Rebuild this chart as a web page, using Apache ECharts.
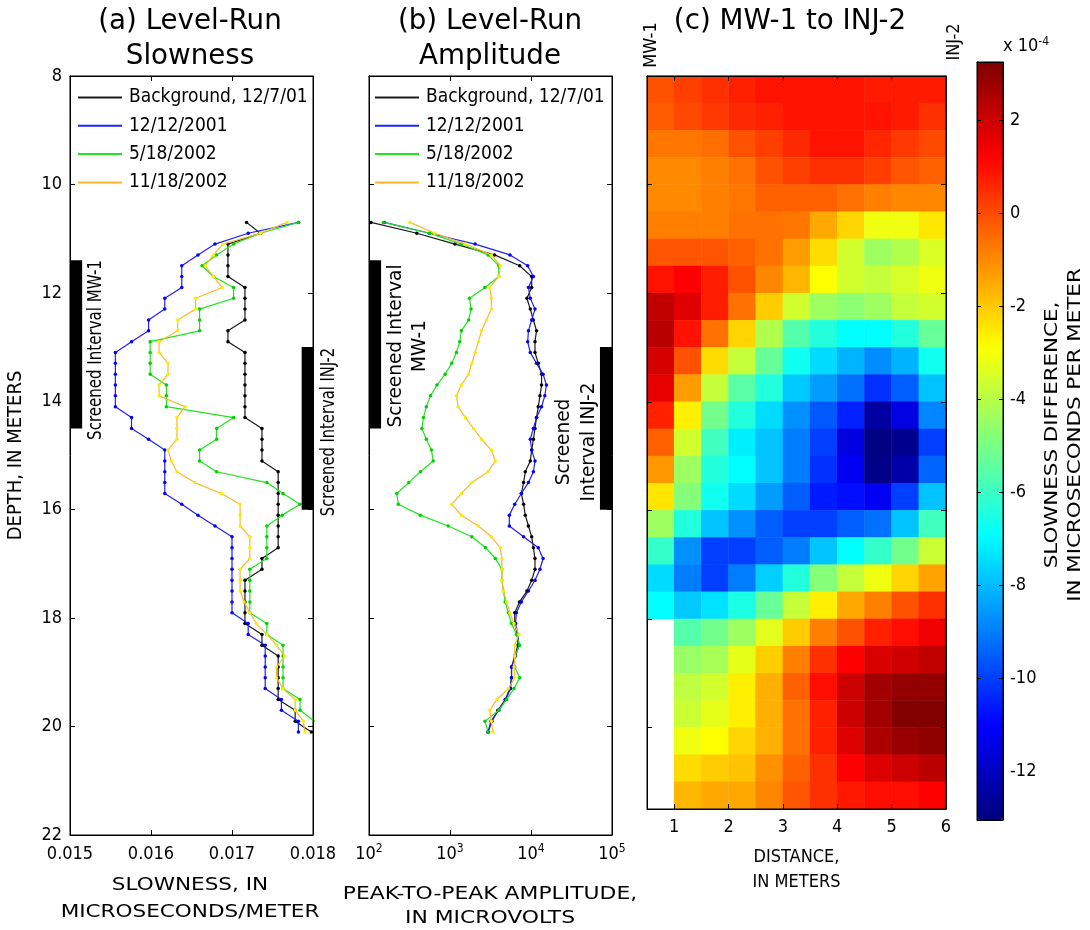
<!DOCTYPE html>
<html>
<head>
<meta charset="utf-8">
<title>Level-run slowness, amplitude and slowness difference</title>
<script src="https://cdn.jsdelivr.net/npm/echarts@6/dist/echarts.min.js"></script>
<style>
  html, body { margin: 0; padding: 0; background: #fff; }
  #chart { width: 1090px; height: 930px; }
</style>
</head>
<body>
<div id="chart"></div>
<script>
// depth of every level-run reading, meters
var depths = [10.7, 10.9, 11.1, 11.3, 11.5, 11.7, 11.9, 12.1, 12.3, 12.5, 12.7, 12.9, 13.1, 13.3, 13.5, 13.7,
  13.9, 14.1, 14.3, 14.5, 14.7, 14.9, 15.1, 15.3, 15.5, 15.7, 15.9, 16.1, 16.3, 16.5, 16.7, 16.9, 17.1, 17.3,
  17.5, 17.7, 17.9, 18.1, 18.3, 18.5, 18.7, 18.9, 19.1, 19.3, 19.5, 19.7, 19.9, 20.1];

var runNames = ['Background, 12/7/01', '12/12/2001', '5/18/2002', '11/18/2002'];

// (a) slowness, microseconds/meter
var slowBackground = [0.01718, 0.01735, 0.01695, 0.01695, 0.01695, 0.01695, 0.01716, 0.01716, 0.01716, 0.01716,
  0.01695, 0.01695, 0.01716, 0.01716, 0.01716, 0.01716, 0.01716, 0.01716, 0.01716, 0.01737, 0.01737, 0.01737,
  0.01737, 0.01757, 0.01757, 0.01757, 0.01757, 0.01757, 0.01757, 0.01757, 0.01757, 0.01737, 0.01737, 0.01716,
  0.01716, 0.01716, 0.01716, 0.01716, 0.01737, 0.01737, 0.01757, 0.01757, 0.01757, 0.01757, 0.01757, 0.01778,
  0.01778, 0.01798];
var slowDec2001 = [0.01782, 0.01720, 0.01679, 0.01658, 0.01638, 0.01638, 0.01638, 0.01617, 0.01617, 0.01597,
  0.01597, 0.01576, 0.01556, 0.01556, 0.01556, 0.01556, 0.01556, 0.01556, 0.01576, 0.01576, 0.01597, 0.01617,
  0.01617, 0.01617, 0.01617, 0.01617, 0.01638, 0.01658, 0.01679, 0.01700, 0.01700, 0.01700, 0.01700, 0.01700,
  0.01700, 0.01700, 0.01700, 0.01720, 0.01720, 0.01741, 0.01741, 0.01741, 0.01741, 0.01741, 0.01761, 0.01761,
  0.01782, 0.01782];
var slowMay2002 = [0.01782, 0.01735, 0.01702, 0.01681, 0.01663, 0.01677, 0.01702, 0.01702, 0.01660, 0.01660,
  0.01660, 0.01599, 0.01599, 0.01599, 0.01599, 0.01619, 0.01619, 0.01619, 0.01702, 0.01681, 0.01681, 0.01660,
  0.01660, 0.01681, 0.01743, 0.01763, 0.01784, 0.01762, 0.01743, 0.01743, 0.01743, 0.01743, 0.01722, 0.01722,
  0.01722, 0.01722, 0.01722, 0.01743, 0.01743, 0.01763, 0.01763, 0.01763, 0.01763, 0.01763, 0.01784, 0.01784,
  0.01802, 0.01815];
var slowNov2002 = [0.01768, 0.01735, 0.01689, 0.01677, 0.01667, 0.01677, 0.01688, 0.01655, 0.01655, 0.01633,
  0.01633, 0.01610, 0.01610, 0.01621, 0.01621, 0.01610, 0.01610, 0.01642, 0.01632, 0.01632, 0.01632, 0.01621,
  0.01625, 0.01632, 0.01654, 0.01687, 0.01710, 0.01710, 0.01710, 0.01722, 0.01722, 0.01722, 0.01710, 0.01710,
  0.01710, 0.01715, 0.01722, 0.01730, 0.01743, 0.01755, 0.01765, 0.01755, 0.01755, 0.01763, 0.01778, 0.01778,
  0.01788, 0.01790];

// (b) peak-to-peak amplitude, microvolts
var ampBackground = [106, 390, 1150, 3550, 7240, 10200, 10200, 8900, 9800, 10700, 11700, 11200, 11200, 12300,
  13500, 13500, 12900, 12300, 11700, 11200, 10700, 10200, 9800, 8500, 8100, 7600, 8100, 8500, 9300, 10200, 10700,
  11200, 11200, 10200, 8900, 7200, 6300, 6300, 6800, 6900, 6300, 5750, 5750, 5500, 4800, 3900, 3300, 2950];
var ampDec2001 = [155, 560, 2040, 5500, 9100, 10700, 9300, 9800, 11200, 10200, 9300, 9100, 9800, 11700, 14100,
  15500, 14800, 13500, 11700, 10700, 9800, 10200, 11200, 10700, 9300, 7600, 6300, 5400, 5400, 8100, 12300, 14100,
  12900, 11200, 9300, 7600, 6600, 6450, 6900, 7100, 6450, 5750, 5750, 5600, 4900, 4000, 3200, 2950];
var ampMay2002 = [150, 560, 1380, 2950, 4000, 4000, 2700, 1740, 1820, 1700, 1380, 1320, 1200, 1050, 870, 690,
  575, 510, 470, 450, 510, 590, 620, 430, 310, 220, 230, 430, 950, 1860, 2750, 3630, 4370, 4370, 4570, 4790, 5250,
  5750, 6600, 7240, 6300, 6300, 7240, 6170, 5000, 4000, 2700, 2950];
var ampNov2002 = [320, 650, 1550, 3240, 4170, 4000, 3100, 3240, 3240, 2820, 2450, 2240, 2040, 1860, 1700, 1380,
  1200, 1260, 1550, 1950, 2450, 3240, 3630, 2950, 1860, 1380, 1050, 1380, 2240, 3240, 4170, 4370, 4370, 4370,
  4570, 5000, 5500, 6170, 7080, 6300, 6300, 6170, 6300, 5250, 3800, 3100, 3240, 3390];

// screened intervals, depth in meters
var screenMW1 = [11.4, 14.5];
var screenINJ2 = [13.0, 16.0];

// (c) slowness difference, x 10^-4 us/m; cells 0.5 m wide and 0.5 m tall
var heatDistances = [0.75, 1.25, 1.75, 2.25, 2.75, 3.25, 3.75, 4.25, 4.75, 5.25, 5.75];
var heatDepths = [8.25, 8.75, 9.25, 9.75, 10.25, 10.75, 11.25, 11.75, 12.25, 12.75, 13.25, 13.75, 14.25, 14.75,
  15.25, 15.75, 16.25, 16.75, 17.25, 17.75, 18.25, 18.75, 19.25, 19.75, 20.25, 20.75, 21.25];
var heatValues = [
  [-0.1, 0.2, 0.45, 0.7, 0.9, 0.9, 0.9, 0.9, 0.8, 0.8, 0.8],
  [-0.25, 0.05, 0.3, 0.55, 0.7, 0.9, 0.9, 0.9, 0.9, 0.8, 0.45],
  [-0.7, -0.7, -0.55, -0.1, 0.2, 0.55, 0.9, 0.9, 0.6, 0.3, 0.05],
  [-1.0, -1.0, -0.83, -0.6, -0.1, 0.2, 0.45, 0.45, 0.2, -0.13, -0.35],
  [-1.0, -1.0, -0.83, -0.7, -0.35, -0.35, -0.35, -0.6, -0.83, -0.95, -0.95],
  [-0.83, -0.83, -0.83, -0.6, -0.6, -0.7, -1.5, -2.2, -3.1, -3.1, -2.5],
  [-0.13, -0.13, -0.13, -0.35, -0.6, -1.3, -2.3, -3.6, -4.4, -4.1, -3.45],
  [0.9, 1.21, 0.75, -0.1, -0.95, -1.7, -2.86, -3.6, -3.8, -3.5, -3.1],
  [2.2, 1.7, 0.75, -0.6, -2.05, -3.6, -4.4, -4.7, -4.4, -3.8, -3.6],
  [2.35, 0.9, -0.6, -2.2, -4.1, -5.6, -6.4, -6.94, -6.94, -6.4, -5.3],
  [1.9, -0.1, -2.3, -3.8, -5.3, -6.7, -7.5, -8.15, -8.75, -8.15, -6.7],
  [1.6, -1.3, -3.8, -5.5, -6.4, -7.8, -8.5, -9.2, -10.25, -9.5, -7.9],
  [0.7, -2.6, -5.1, -6.4, -7.5, -8.7, -9.6, -10.5, -12.5, -11.5, -8.85],
  [-0.35, -3.6, -5.9, -7.2, -7.9, -9.0, -10.0, -11.5, -13.0, -12.8, -10.0],
  [-1.2, -4.4, -6.4, -6.94, -7.9, -9.0, -10.25, -11.2, -12.9, -12.4, -9.4],
  [-2.45, -4.8, -6.7, -7.5, -8.5, -9.5, -10.6, -10.8, -11.2, -10.0, -7.9],
  [-4.4, -6.4, -7.9, -8.7, -9.5, -10.0, -10.0, -9.5, -9.2, -7.9, -5.9],
  [-6.1, -8.7, -10.0, -10.0, -9.5, -9.0, -7.9, -6.94, -6.1, -5.1, -3.7],
  [-7.5, -9.0, -10.0, -9.0, -7.7, -6.4, -4.8, -3.8, -3.1, -2.2, -1.4],
  [-6.94, -7.8, -7.4, -6.5, -5.3, -3.8, -2.6, -1.5, -0.83, -0.1, 0.45],
  [null, -5.6, -5.1, -4.4, -3.3, -2.05, -0.83, -0.1, 0.7, 1.0, 1.45],
  [null, -4.5, -4.25, -3.27, -2.1, -0.83, 0.45, 1.21, 1.8, 1.95, 2.2],
  [null, -3.9, -3.6, -2.6, -1.6, -0.35, 1.0, 2.03, 2.7, 2.95, 2.95],
  [null, -3.7, -3.27, -2.6, -1.6, -0.6, 0.7, 2.03, 2.7, 3.2, 3.2],
  [null, -3.1, -2.86, -2.2, -1.6, -0.6, 0.7, 1.75, 2.55, 2.85, 3.0],
  [null, -2.3, -2.05, -1.9, -1.1, -0.35, 0.45, 1.21, 1.75, 2.03, 2.3],
  [null, -1.7, -1.5, -1.5, -0.95, -0.15, 0.45, 0.85, 1.0, 1.0, 1.21]
];
var colorbarTicks = [-12, -10, -8, -6, -4, -2, 0, 2];
var colorRange = [-13.05, 3.25];

var FONT = "'Liberation Sans Narrow', 'Arial Narrow', 'DejaVu Sans Condensed', sans-serif";
var lineColors = ['#1a1a1a', '#2020ff', '#1ee61e', '#ffb62e'];
var dotColors = ['#000000', '#0000ff', '#00d000', '#f4f000'];
var jet = ['#00007f', '#0000ff', '#007fff', '#00ffff', '#7fff7f', '#ffff00', '#ff7f00', '#ff0000', '#7f0000'];

function pairs(xs) {
  return xs.map(function (x, i) { return [x, depths[i]]; });
}

function lineSeries(k, xs, xi, yi) {
  return {
    type: 'line', name: runNames[k], xAxisIndex: xi, yAxisIndex: yi,
    data: pairs(xs), symbol: 'circle', symbolSize: 3.5, showSymbol: true,
    lineStyle: { color: lineColors[k], width: 1.2 }, itemStyle: { color: dotColors[k] },
    emphasis: { disabled: true }, silent: true, z: 3 + k
  };
}

var heatData = [];
heatValues.forEach(function (row, r) {
  row.forEach(function (v, c) { if (v !== null) heatData.push([c, r, v]); });
});

var tickStyle = { show: true, inside: true, length: 5, lineStyle: { color: '#000', width: 1 } };
var lineAxis = { show: true, onZero: false, lineStyle: { color: '#000', width: 1 } };
var labelStyle = { color: '#000', fontSize: 18, fontFamily: FONT };
var nameStyle = { color: '#000', fontSize: 18, fontFamily: FONT, lineHeight: 25 };

function frameX(grid, pos, extra) {
  return Object.assign({
    gridIndex: grid, type: 'value', position: pos, axisLine: lineAxis, axisTick: tickStyle,
    splitLine: { show: false }, axisLabel: { show: false }, z: 10
  }, extra);
}

function box(left, top, width, height, z) {
  return {
    left: left, top: top, width: width, height: height, show: true, z: z || 0,
    borderColor: '#000', borderWidth: 1, backgroundColor: 'rgba(0,0,0,0)'
  };
}

var logLabel = {
  color: '#000', fontFamily: FONT, margin: 8,
  formatter: function (v) { return '{b|10}{s|' + Math.round(Math.log(v) / Math.LN10) + '}'; },
  rich: {
    b: { fontSize: 18, fontFamily: FONT, lineHeight: 22, color: '#000' },
    s: { fontSize: 12, fontFamily: FONT, lineHeight: 12, verticalAlign: 'top', color: '#000' }
  }
};

var legendData = runNames.map(function (n, k) { return { name: n, itemStyle: { color: lineColors[k] } }; });
function legendAt(left) {
  return {
    left: left, top: 88, orient: 'vertical', icon: 'rect', itemWidth: 44, itemHeight: 2, itemGap: 9.3,
    padding: 0, selectedMode: false, data: legendData,
    textStyle: { color: '#000', fontSize: 19, fontFamily: FONT, padding: [0, 0, 0, 2] }
  };
}

// free text; sx stretches along the reading direction, up turns it to read bottom-to-top
function text(x, y, str, size, sx, up, lh) {
  return {
    type: 'text', x: x, y: y, silent: true, scaleX: sx, rotation: up ? Math.PI / 2 : 0,
    style: {
      text: str, fontSize: size, fontFamily: FONT, fill: '#000', lineHeight: lh || Math.round(size * 1.25),
      align: 'center', verticalAlign: 'middle'
    }
  };
}

var chart = echarts.init(document.getElementById('chart'), null, { renderer: 'canvas' });
chart.setOption({
  animation: false,
  backgroundColor: '#fff',
  grid: [
    box(70, 76, 243, 759),
    box(369, 76, 243, 759),
    { left: 647, top: 76, width: 299, height: 733 },
    box(647, 76, 299, 733, 5),
    box(977, 62, 26, 758, 6)
  ],
  xAxis: [
    frameX(0, 'bottom', {
      min: 0.015, max: 0.018, interval: 0.001,
      axisLabel: Object.assign({ margin: 10, formatter: function (v) { return v.toFixed(3); } }, labelStyle)
    }),
    frameX(0, 'top', { min: 0.015, max: 0.018, interval: 0.001 }),
    frameX(1, 'bottom', { type: 'log', logBase: 10, min: 100, max: 100000, axisLabel: logLabel }),
    frameX(1, 'top', { type: 'log', logBase: 10, min: 100, max: 100000 }),
    { gridIndex: 2, type: 'category', data: heatDistances, show: false },
    frameX(3, 'bottom', {
      min: 0.5, max: 6,
      axisTick: Object.assign({ customValues: [1, 2, 3, 4, 5, 6] }, tickStyle),
      axisLabel: Object.assign({ margin: 9, customValues: [1, 2, 3, 4, 5, 6] }, labelStyle),
      name: 'DISTANCE,\nIN METERS', nameLocation: 'middle', nameGap: 36, nameTextStyle: nameStyle
    }),
    frameX(3, 'top', { min: 0.5, max: 6, axisTick: Object.assign({ customValues: [1, 2, 3, 4, 5, 6] }, tickStyle) }),
    frameX(4, 'bottom', { min: 0, max: 1, axisTick: { show: false } }),
    frameX(4, 'top', { min: 0, max: 1, axisTick: { show: false } })
  ],
  yAxis: [
    frameX(0, 'left', {
      inverse: true, min: 8, max: 22, interval: 2,
      axisLabel: Object.assign({ margin: 8 }, labelStyle),
      name: 'DEPTH, IN METERS', nameLocation: 'middle', nameGap: 44, nameRotate: 90,
      nameTextStyle: { color: '#000', fontSize: 20, fontFamily: FONT }
    }),
    frameX(0, 'right', { inverse: true, min: 8, max: 22, interval: 2 }),
    frameX(1, 'left', { inverse: true, min: 8, max: 22, interval: 2 }),
    frameX(1, 'right', { inverse: true, min: 8, max: 22, interval: 2 }),
    { gridIndex: 2, type: 'category', data: heatDepths, inverse: true, show: false },
    frameX(3, 'left', { inverse: true, min: 8, max: 21.5,
      axisTick: Object.assign({ customValues: [10, 12, 14, 16, 18, 20] }, tickStyle) }),
    frameX(3, 'right', { inverse: true, min: 8, max: 21.5,
      axisTick: Object.assign({ customValues: [10, 12, 14, 16, 18, 20] }, tickStyle) }),
    frameX(4, 'left', { min: colorRange[0], max: colorRange[1],
      axisTick: Object.assign({ customValues: colorbarTicks }, tickStyle, { length: 4 }) }),
    frameX(4, 'right', { min: colorRange[0], max: colorRange[1],
      axisTick: Object.assign({ customValues: colorbarTicks }, tickStyle, { length: 4 }),
      axisLabel: Object.assign({ margin: 7, customValues: colorbarTicks }, labelStyle) })
  ],
  legend: [legendAt(78), legendAt(375)],
  visualMap: {
    type: 'continuous', seriesIndex: 8, min: colorRange[0], max: colorRange[1],
    calculable: false, hoverLink: false, showLabel: false, text: null,
    left: 977, top: 62, itemWidth: 26, itemHeight: 758, padding: 0,
    inRange: { color: jet }
  },
  series: [
    Object.assign(lineSeries(0, slowBackground, 0, 0), {
      markArea: {
        silent: true, itemStyle: { color: '#000', opacity: 1 },
        data: [
          [{ xAxis: 0.015, yAxis: screenMW1[0] }, { xAxis: 0.01515, yAxis: screenMW1[1] }],
          [{ xAxis: 0.01786, yAxis: screenINJ2[0] }, { xAxis: 0.018, yAxis: screenINJ2[1] }]
        ]
      }
    }),
    lineSeries(1, slowDec2001, 0, 0),
    lineSeries(2, slowMay2002, 0, 0),
    lineSeries(3, slowNov2002, 0, 0),
    Object.assign(lineSeries(0, ampBackground, 2, 2), {
      markArea: {
        silent: true, itemStyle: { color: '#000', opacity: 1 },
        data: [
          [{ xAxis: 100, yAxis: screenMW1[0] }, { xAxis: 141, yAxis: screenMW1[1] }],
          [{ xAxis: 71000, yAxis: screenINJ2[0] }, { xAxis: 100000, yAxis: screenINJ2[1] }]
        ]
      }
    }),
    lineSeries(1, ampDec2001, 2, 2),
    lineSeries(2, ampMay2002, 2, 2),
    lineSeries(3, ampNov2002, 2, 2),
    {
      type: 'heatmap', name: 'slowness difference', xAxisIndex: 4, yAxisIndex: 4, data: heatData,
      emphasis: { disabled: true }, silent: true, progressive: 0
    }
  ],
  graphic: [
    text(190, 39, '(a) Level-Run\nSlowness', 28, 1.1, false, 35),
    text(490, 39, '(b) Level-Run\nAmplitude', 28, 1.1, false, 35),
    text(790, 22, '(c) MW-1 to INJ-2', 28, 1.1),
    text(651, 45, 'MW-1', 18, 1, true),
    text(954, 42, 'INJ-2', 18, 1, true),
    text(190, 899, 'SLOWNESS, IN\nMICROSECONDS/METER', 18, 1.33, false, 27),
    text(490, 906, 'PEAK-TO-PEAK AMPLITUDE,\nIN MICROVOLTS', 18, 1.35, false, 24),
    {
      type: 'text', x: 1003, y: 46, silent: true,
      style: {
        text: '{a|x 10}{s|-4}', align: 'left', verticalAlign: 'middle',
        rich: {
          a: { fontSize: 18, fontFamily: FONT, fill: '#000', lineHeight: 20 },
          s: { fontSize: 12, fontFamily: FONT, fill: '#000', lineHeight: 12, verticalAlign: 'top' }
        }
      }
    },
    text(1064, 435, 'SLOWNESS DIFFERENCE,\nIN MICROSECONDS PER METER', 18, 1.32, true, 23),
    text(96, 350, 'Screened Interval MW-1', 19, 0.88, true),
    text(329, 432, 'Screened Interval INJ-2', 19, 0.86, true),
    text(408, 346, 'Screened Interval\nMW-1', 19, 1.08, true, 24),
    text(577, 442, 'Screened\nInterval INJ-2', 19, 1.08, true, 25)
  ]
});
</script>
</body>
</html>
